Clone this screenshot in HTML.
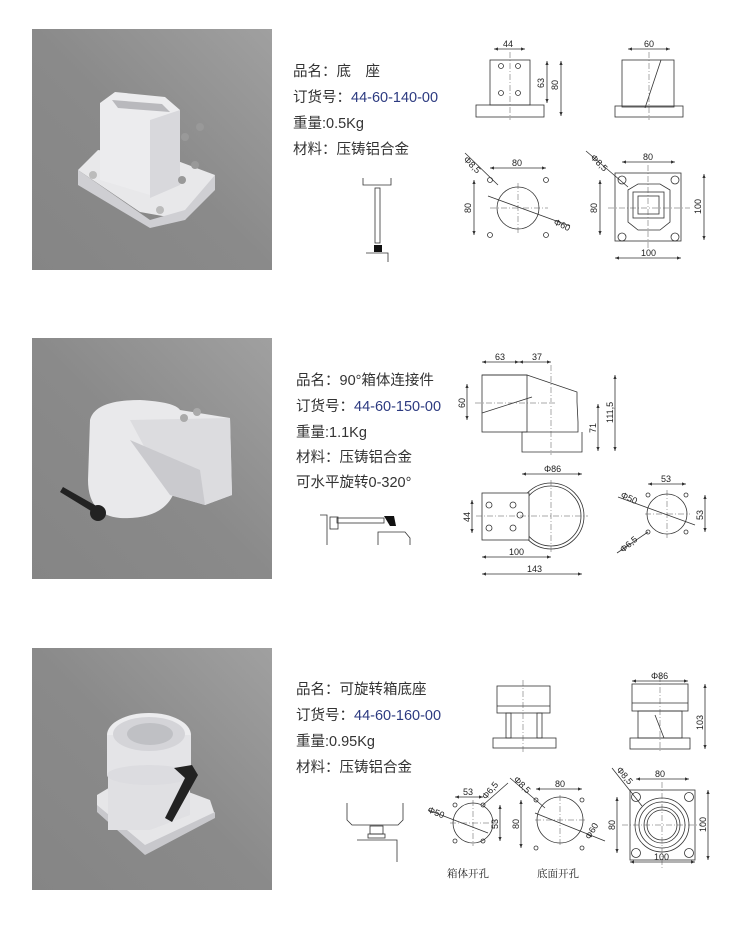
<!DOCTYPE html>
<html><head><meta charset="utf-8"><style>
html,body{margin:0;padding:0;background:#fff;width:750px;height:927px;overflow:hidden}
svg{display:block}
.t{font-family:"Liberation Sans","Noto Sans CJK SC",sans-serif;font-size:14.5px;fill:#333}
.b{fill:#2c3a80}
.d{font-family:"Liberation Sans",sans-serif;font-size:9px;fill:#222}
.l{stroke:#333;stroke-width:0.8;fill:none}
.c{stroke:#555;stroke-width:0.5;fill:none;stroke-dasharray:6 2 1 2}
.s{font-family:"Liberation Serif","Noto Serif CJK SC",serif;font-size:10.5px;fill:#222}
</style></head><body>
<svg width="750" height="927" viewBox="0 0 750 927">
<defs>
<linearGradient id="g" x1="1" y1="0" x2="0" y2="1">
<stop offset="0" stop-color="#a0a0a0"/><stop offset="0.5" stop-color="#8a8a8a"/><stop offset="1" stop-color="#858585"/>
</linearGradient>
<marker id="a" markerWidth="6" markerHeight="6" refX="5" refY="3" orient="auto-start-reverse"><path d="M0,1 L5,3 L0,5z" fill="#333"/></marker>
</defs>

<!-- photo boxes -->
<rect x="32" y="29" width="240" height="241" fill="url(#g)"/>
<rect x="32" y="338" width="240" height="241" fill="url(#g)"/>
<rect x="32" y="648" width="240" height="242" fill="url(#g)"/>

<!-- object 1 -->
<path d="M78,170 L98,150 L175,160 L215,175 L185,220 L140,212 Z" fill="#e8e8ea"/>
<path d="M78,170 L78,185 L150,228 L185,220 L215,190 L215,175 L185,210 L150,220 Z" fill="#cfcfd3"/>
<path d="M100,103 L115,92 L165,97 L180,110 L180,185 L150,195 L100,180 Z" fill="#ececee"/>
<path d="M112,100 L162,104 L170,112 L118,108 Z" fill="#b9b9bd"/>
<path d="M150,120 L180,110 L180,185 L150,198 Z" fill="#d8d8dc"/>
<circle cx="185" cy="137" r="4" fill="#999"/><circle cx="200" cy="127" r="4" fill="#999"/>
<circle cx="182" cy="180" r="4" fill="#999"/><circle cx="195" cy="165" r="4" fill="#999"/>
<circle cx="93" cy="175" r="4" fill="#bbb"/><circle cx="160" cy="210" r="4" fill="#bbb"/>

<!-- object 2 -->
<path d="M90,420 Q95,400 140,400 Q175,402 180,410 L230,418 L232,495 L205,505 L175,490 Q165,520 120,518 Q88,515 88,480 Z" fill="#e9e9eb"/>
<path d="M130,420 L230,418 L232,495 L205,505 L170,495 Z" fill="#dcdcdf"/>
<path d="M130,440 L200,470 L205,505 L170,495 Z" fill="#cacace"/>
<circle cx="184" cy="418" r="4" fill="#aaa"/><circle cx="197" cy="412" r="4" fill="#aaa"/>
<path d="M63,487 L100,508 L96,514 L60,492 Z" fill="#222"/>
<circle cx="98" cy="513" r="8" fill="#222"/>

<!-- object 3 -->
<path d="M97,795 L135,772 L210,800 L215,815 L145,850 L97,810 Z" fill="#e6e6e8"/>
<path d="M97,805 L145,845 L215,812 L215,818 L145,855 L97,812 Z" fill="#c8c8cc"/>
<path d="M108,765 L108,830 L150,830 L190,815 L190,760 Z" fill="#e0e0e3"/>
<ellipse cx="149" cy="735" rx="42" ry="22" fill="#ececee"/>
<rect x="107" y="735" width="84" height="40" fill="#e4e4e7"/>
<ellipse cx="149" cy="775" rx="42" ry="10" fill="#dcdce0"/>
<ellipse cx="149" cy="734" rx="36" ry="17" fill="#d4d4d8"/>
<ellipse cx="150" cy="734" rx="23" ry="11" fill="#bfc0c4"/>
<path d="M174,768 L192,765 L198,775 L172,822 L165,818 L185,778 Z" fill="#222"/>

<!-- texts -->
<text class="t" x="293" y="76">品名：底　座</text>
<text class="t" x="293" y="102">订货号：<tspan class="b">44-60-140-00</tspan></text>
<text class="t" x="293" y="128">重量:0.5Kg</text>
<text class="t" x="293" y="154">材料：压铸铝合金</text>

<text class="t" x="296" y="385">品名：90°箱体连接件</text>
<text class="t" x="296" y="411">订货号：<tspan class="b">44-60-150-00</tspan></text>
<text class="t" x="296" y="437">重量:1.1Kg</text>
<text class="t" x="296" y="462">材料：压铸铝合金</text>
<text class="t" x="296" y="487">可水平旋转0-320°</text>

<text class="t" x="296" y="694">品名：可旋转箱底座</text>
<text class="t" x="296" y="720">订货号：<tspan class="b">44-60-160-00</tspan></text>
<text class="t" x="296" y="746">重量:0.95Kg</text>
<text class="t" x="296" y="772">材料：压铸铝合金</text>

<!-- section 1 drawings -->
<g>
<rect class="l" x="490" y="60" width="40" height="45"/>
<rect class="l" x="476" y="105" width="68" height="12"/>
<circle class="l" cx="501" cy="66" r="2.5"/><circle class="l" cx="518" cy="66" r="2.5"/>
<circle class="l" cx="501" cy="93" r="2.5"/><circle class="l" cx="518" cy="93" r="2.5"/>
<line class="c" x1="510" y1="52" x2="510" y2="120"/>
<line class="l" x1="494" y1="49" x2="525" y2="49" marker-start="url(#a)" marker-end="url(#a)"/>
<text class="d" x="503" y="47">44</text>
<line class="l" x1="547" y1="61" x2="547" y2="103" marker-start="url(#a)" marker-end="url(#a)"/>
<text class="d" x="0" y="0" transform="translate(544,88) rotate(-90)">63</text>
<line class="l" x1="561" y1="61" x2="561" y2="116" marker-start="url(#a)" marker-end="url(#a)"/>
<text class="d" x="0" y="0" transform="translate(558,90) rotate(-90)">80</text>

<rect class="l" x="622" y="60" width="52" height="47"/>
<rect class="l" x="615" y="106" width="68" height="11"/>
<line class="l" x1="645" y1="108" x2="661" y2="60"/>
<line class="c" x1="649" y1="52" x2="649" y2="120"/>
<line class="l" x1="628" y1="49" x2="670" y2="49" marker-start="url(#a)" marker-end="url(#a)"/>
<text class="d" x="644" y="47">60</text>

<circle class="l" cx="518" cy="208" r="21"/>
<line class="c" x1="490" y1="208" x2="548" y2="208"/><line class="c" x1="518" y1="183" x2="518" y2="233"/>
<g class="l"><circle cx="490" cy="180" r="2.5"/><circle cx="546" cy="180" r="2.5"/><circle cx="490" cy="235" r="2.5"/><circle cx="546" cy="235" r="2.5"/></g>
<line class="l" x1="490" y1="168" x2="546" y2="168" marker-start="url(#a)" marker-end="url(#a)"/>
<text class="d" x="512" y="166">80</text>
<line class="l" x1="474" y1="180" x2="474" y2="235" marker-start="url(#a)" marker-end="url(#a)"/>
<text class="d" x="0" y="0" transform="translate(471,213) rotate(-90)">80</text>
<line class="l" x1="465" y1="153" x2="498" y2="185"/>
<text class="d" transform="translate(463,160) rotate(45)">Φ8,5</text>
<line class="l" x1="488" y1="196" x2="570" y2="226"/>
<text class="d" transform="translate(553,224) rotate(25)">Φ60</text>

<rect class="l" x="615" y="173" width="66" height="68"/>
<path class="l" d="M628,190 L638,184 L660,184 L670,190 L670,222 L660,230 L638,230 L628,222 Z"/>
<rect class="l" x="633" y="192" width="31" height="26"/>
<rect class="l" x="638" y="196" width="21" height="18"/>
<g class="l"><circle cx="622" cy="180" r="4"/><circle cx="675" cy="180" r="4"/><circle cx="622" cy="237" r="4"/><circle cx="675" cy="237" r="4"/></g>
<line class="c" x1="608" y1="208" x2="690" y2="208"/><line class="c" x1="648" y1="165" x2="648" y2="248"/>
<line class="l" x1="622" y1="162" x2="675" y2="162" marker-start="url(#a)" marker-end="url(#a)"/>
<text class="d" x="643" y="160">80</text>
<line class="l" x1="600" y1="180" x2="600" y2="235" marker-start="url(#a)" marker-end="url(#a)"/>
<text class="d" transform="translate(597,213) rotate(-90)">80</text>
<line class="l" x1="704" y1="174" x2="704" y2="240" marker-start="url(#a)" marker-end="url(#a)"/>
<text class="d" transform="translate(701,214) rotate(-90)">100</text>
<line class="l" x1="615" y1="258" x2="681" y2="258" marker-start="url(#a)" marker-end="url(#a)"/>
<text class="d" x="641" y="256">100</text>
<line class="l" x1="586" y1="151" x2="628" y2="187"/>
<text class="d" transform="translate(590,158) rotate(45)">Φ8,5</text>

<path class="l" d="M363,178 L363,185 L391,185 L391,178"/>
<rect class="l" x="375" y="188" width="5" height="55"/>
<rect x="374" y="245" width="8" height="7" fill="#111"/>
<path class="l" d="M366,253 L388,253 L388,262"/>
</g>

<!-- section 2 drawings -->
<g>
<path class="l" d="M482,375 L527,375 L577,392 L577,402 L578,422 L578,432 L522,432 L522,452 L582,452 L582,432"/>
<rect class="l" x="482" y="375" width="45" height="57"/>
<line class="l" x1="482" y1="413" x2="532" y2="397"/>
<line class="c" x1="475" y1="403" x2="555" y2="403"/>
<line class="c" x1="551" y1="365" x2="551" y2="455"/>
<line class="l" x1="482" y1="362" x2="519" y2="362" marker-start="url(#a)" marker-end="url(#a)"/>
<line class="l" x1="519" y1="362" x2="551" y2="362" marker-start="url(#a)" marker-end="url(#a)"/>
<text class="d" x="495" y="360">63</text><text class="d" x="532" y="360">37</text>
<line class="l" x1="467" y1="384" x2="467" y2="420" marker-start="url(#a)" marker-end="url(#a)"/>
<text class="d" transform="translate(465,408) rotate(-90)">60</text>
<line class="l" x1="598" y1="404" x2="598" y2="451" marker-start="url(#a)" marker-end="url(#a)"/>
<text class="d" transform="translate(596,433) rotate(-90)">71</text>
<line class="l" x1="615" y1="375" x2="615" y2="451" marker-start="url(#a)" marker-end="url(#a)"/>
<text class="d" transform="translate(613,423) rotate(-90)">111,5</text>
<line class="l" x1="522" y1="474" x2="582" y2="474" marker-start="url(#a)" marker-end="url(#a)"/>
<text class="d" x="544" y="472">Φ86</text>

<circle class="l" cx="551" cy="516" r="33"/><circle class="l" cx="551" cy="516" r="30"/>
<rect x="482" y="493" width="47" height="47" fill="#fff" stroke="#333" stroke-width="0.8"/>
<g class="l"><circle cx="489" cy="505" r="3"/><circle cx="513" cy="505" r="3"/><circle cx="489" cy="528" r="3"/><circle cx="513" cy="528" r="3"/><circle cx="520" cy="515" r="3"/></g>
<line class="c" x1="476" y1="516" x2="588" y2="516"/><line class="c" x1="551" y1="480" x2="551" y2="552"/>
<line class="l" x1="472" y1="500" x2="472" y2="533" marker-start="url(#a)" marker-end="url(#a)"/>
<text class="d" transform="translate(470,522) rotate(-90)">44</text>
<line class="l" x1="482" y1="557" x2="551" y2="557" marker-start="url(#a)" marker-end="url(#a)"/>
<text class="d" x="509" y="555">100</text>
<line class="l" x1="482" y1="574" x2="582" y2="574" marker-start="url(#a)" marker-end="url(#a)"/>
<text class="d" x="527" y="572">143</text>

<circle class="l" cx="667" cy="514" r="20"/>
<line class="c" x1="645" y1="514" x2="690" y2="514"/><line class="c" x1="667" y1="490" x2="667" y2="538"/>
<g class="l"><circle cx="648" cy="495" r="2"/><circle cx="686" cy="495" r="2"/><circle cx="648" cy="532" r="2"/><circle cx="686" cy="532" r="2"/></g>
<line class="l" x1="648" y1="484" x2="686" y2="484" marker-start="url(#a)" marker-end="url(#a)"/>
<text class="d" x="661" y="482">53</text>
<line class="l" x1="705" y1="495" x2="705" y2="532" marker-start="url(#a)" marker-end="url(#a)"/>
<text class="d" transform="translate(703,520) rotate(-90)">53</text>
<line class="l" x1="618" y1="497" x2="695" y2="525"/>
<text class="d" transform="translate(620,497) rotate(25)">Φ50</text>
<line class="l" x1="617" y1="553" x2="648" y2="532"/>
<text class="d" transform="translate(623,553) rotate(-40)">Φ6,5</text>

<path class="l" d="M320,515 L327,515 L327,545"/>
<rect class="l" x="330" y="517" width="8" height="12"/>
<rect class="l" x="337" y="518" width="47" height="5"/>
<path d="M384,516 L394,516 L396,526 L390,526 Z" fill="#111"/>
<path class="l" d="M378,545 L378,532 L405,532 L410,538 L410,545"/>
</g>

<!-- section 3 drawings -->
<g>
<rect class="l" x="497" y="686" width="53" height="27"/>
<line class="l" x1="497" y1="706" x2="550" y2="706"/>
<rect class="l" x="506" y="713" width="5" height="25"/><rect class="l" x="537" y="713" width="5" height="25"/>
<rect class="l" x="493" y="738" width="63" height="10"/>
<line class="c" x1="523" y1="680" x2="523" y2="752"/>

<rect class="l" x="632" y="684" width="56" height="27"/>
<line class="l" x1="632" y1="703" x2="688" y2="703"/>
<rect class="l" x="638" y="711" width="44" height="27"/>
<line class="l" x1="655" y1="715" x2="664" y2="738"/>
<rect class="l" x="630" y="738" width="60" height="11"/>
<line class="c" x1="660" y1="676" x2="660" y2="752"/>
<line class="l" x1="632" y1="681" x2="688" y2="681" marker-start="url(#a)" marker-end="url(#a)"/>
<text class="d" x="651" y="679">Φ86</text>
<line class="l" x1="705" y1="684" x2="705" y2="749" marker-start="url(#a)" marker-end="url(#a)"/>
<text class="d" transform="translate(703,730) rotate(-90)">103</text>

<path class="l" d="M347,803 L347,820 L352,825 L398,825 L403,820 L403,803"/>
<rect class="l" x="370" y="826" width="13" height="8"/>
<rect class="l" x="368" y="834" width="17" height="4"/>
<path class="l" d="M357,840 L397,840 L397,862"/>

<circle class="l" cx="473" cy="823" r="20"/>
<line class="c" x1="450" y1="823" x2="496" y2="823"/><line class="c" x1="473" y1="800" x2="473" y2="846"/>
<g class="l"><circle cx="455" cy="805" r="2"/><circle cx="483" cy="805" r="2"/><circle cx="455" cy="841" r="2"/><circle cx="483" cy="841" r="2"/></g>
<line class="l" x1="455" y1="797" x2="483" y2="797" marker-start="url(#a)" marker-end="url(#a)"/>
<text class="d" x="463" y="795">53</text>
<line class="l" x1="500" y1="805" x2="500" y2="841" marker-start="url(#a)" marker-end="url(#a)"/>
<text class="d" transform="translate(498,829) rotate(-90)">53</text>
<line class="l" x1="428" y1="810" x2="488" y2="833"/>
<text class="d" transform="translate(427,812) rotate(22)">Φ50</text>
<line class="l" x1="508" y1="783" x2="483" y2="805"/>
<text class="d" transform="translate(486,800) rotate(-50)">Φ6,5</text>

<circle class="l" cx="560" cy="820" r="23"/>
<line class="c" x1="535" y1="820" x2="585" y2="820"/><line class="c" x1="560" y1="795" x2="560" y2="846"/>
<g class="l"><circle cx="536" cy="800" r="2"/><circle cx="582" cy="800" r="2"/><circle cx="536" cy="848" r="2"/><circle cx="582" cy="848" r="2"/></g>
<line class="l" x1="536" y1="789" x2="582" y2="789" marker-start="url(#a)" marker-end="url(#a)"/>
<text class="d" x="555" y="787">80</text>
<line class="l" x1="521" y1="800" x2="521" y2="848" marker-start="url(#a)" marker-end="url(#a)"/>
<text class="d" transform="translate(519,829) rotate(-90)">80</text>
<line class="l" x1="510" y1="778" x2="545" y2="808"/>
<text class="d" transform="translate(513,780) rotate(45)">Φ8,5</text>
<line class="l" x1="535" y1="813" x2="605" y2="841"/>
<text class="d" transform="translate(590,840) rotate(-60)">Φ60</text>

<rect class="l" x="630" y="790" width="65" height="70"/>
<g class="l"><circle cx="662" cy="825" r="27"/><circle cx="662" cy="825" r="23"/><circle cx="662" cy="825" r="18"/><circle cx="662" cy="825" r="15"/>
<circle cx="636" cy="797" r="4.5"/><circle cx="689" cy="797" r="4.5"/><circle cx="636" cy="853" r="4.5"/><circle cx="689" cy="853" r="4.5"/></g>
<line class="c" x1="622" y1="825" x2="702" y2="825"/><line class="c" x1="662" y1="782" x2="662" y2="868"/>
<line class="l" x1="636" y1="779" x2="689" y2="779" marker-start="url(#a)" marker-end="url(#a)"/>
<text class="d" x="655" y="777">80</text>
<line class="l" x1="617" y1="797" x2="617" y2="853" marker-start="url(#a)" marker-end="url(#a)"/>
<text class="d" transform="translate(615,830) rotate(-90)">80</text>
<line class="l" x1="708" y1="790" x2="708" y2="860" marker-start="url(#a)" marker-end="url(#a)"/>
<text class="d" transform="translate(706,832) rotate(-90)">100</text>
<line class="l" x1="630" y1="862" x2="695" y2="862" marker-start="url(#a)" marker-end="url(#a)"/>
<text class="d" x="654" y="860">100</text>
<line class="l" x1="612" y1="768" x2="642" y2="806"/>
<text class="d" transform="translate(616,770) rotate(50)">Φ8,5</text>

<text class="s" x="447" y="877">箱体开孔</text>
<text class="s" x="537" y="877">底面开孔</text>
</g>
</svg>
</body></html>
